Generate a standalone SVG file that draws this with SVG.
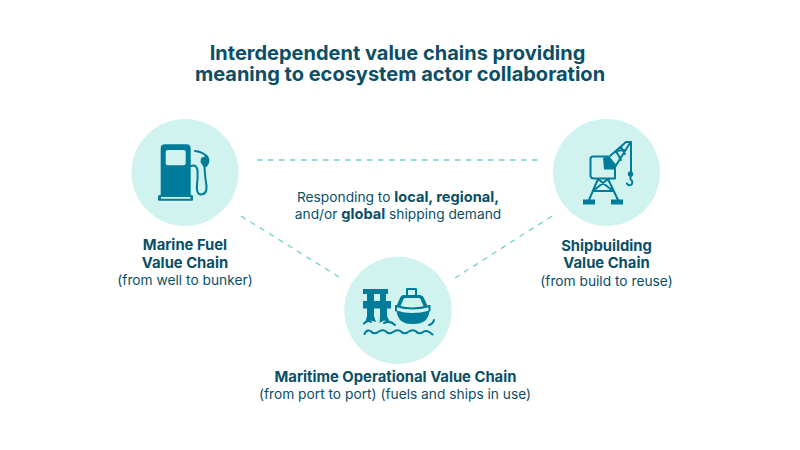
<svg xmlns="http://www.w3.org/2000/svg" width="800" height="450" viewBox="0 0 800 450">
<style>
text{font-family:"Inter","Liberation Sans",sans-serif;fill:#0b4f66;text-anchor:middle}
.t{font-size:20px;font-weight:700}
.b{font-size:14.8px;font-weight:700}
.r{font-size:13.75px;font-weight:400}
.c{fill:#d0f3ef}
.i{fill:#007c9b}
.l{fill:none;stroke:#007c9b;stroke-width:2;stroke-linecap:round;stroke-linejoin:round}
.d{fill:none;stroke:#6fd0cc;stroke-width:1.3;stroke-dasharray:5.5 5.5}
</style>
<rect width="800" height="450" fill="#fff"/>
<g id="title">
<text class="t" x="397.500" y="59.500">Interdependent value chains providing</text>
<text class="t" x="400" y="80.500">meaning to ecosystem actor collaboration</text>
</g>
<g id="connectors">
<path class="d" d="M257 160H541"/>
<path class="d" d="M241 216L339 277"/>
<path class="d" d="M552 216L455 278"/>
</g>
<g id="center-label">
<text class="r" x="398" y="202">Responding to <tspan font-weight="700" font-size="14.600">local, regional,</tspan></text>
<text class="r" x="398" y="219">and/or <tspan font-weight="700" font-size="14.600">global</tspan> shipping demand</text>
</g>
<g id="marine-fuel">
<circle class="c" cx="185" cy="172.500" r="53.500"/>
<path class="i" fill-rule="evenodd" d="M165 144.300H186.500Q190.700 144.300 190.700 148.500V195H160.700V148.500Q160.700 144.300 165 144.300ZM167.700 150Q165.700 150 165.700 152V163.300Q165.700 165.300 167.700 165.300H183.700Q185.700 165.300 185.700 163.300V152Q185.700 150 183.700 150Z"/>
<path class="i" fill-rule="evenodd" d="M159.500 195H192Q193 195 193 196.500V199.500Q193 200.700 192 200.700H159Q158 200.700 158 199.500V196.500Q158 195 159.500 195ZM161 197V198.700H190.500V197Z"/>
<path class="l" d="M191 166Q197 164 197.500 171Q198 178 197 184Q196 195 201.500 194.500Q207 194 206.500 186Q205 178 204.500 167"/>
<path class="l" stroke-width="2.200" d="M195 151Q204 152 208 158"/>
<path class="i" d="M201 158L207 155.500L209.500 160Q209.500 164 206.500 167H203.500L200.500 162Z"/>
</g>
<g id="shipbuilding">
<circle class="c" cx="606.500" cy="172.500" r="53.500"/>
<path class="l" d="M593 156.500H608L615 165V178.500H594Q590.500 178.500 590.500 175V159Q590.500 156.500 593 156.500Z"/>
<path class="i" d="M603 157.500L608.500 157L615.500 165V169.500H604Z"/>
<path class="l" d="M610 156L626 142H631V172M615 167L630 143M616 151L621 160M621 147L625 154M616 151L624 150"/>
<circle class="i" cx="630.500" cy="174" r="2.700"/>
<path class="l" d="M630.500 176V179.500Q633.500 181.500 631.500 184.500Q628.500 186.500 627 183.500"/>
<path class="l" d="M598 179L589 200M608 179L618 200M598 179L613 191M608 179L593 191M593 191H613"/>
<rect class="i" x="583" y="199.500" width="12" height="5"/>
<rect class="i" x="611" y="199.500" width="12" height="5"/>
</g>
<g id="maritime">
<circle class="c" cx="398" cy="310.500" r="53.700"/>
<path class="i" d="M363 289H388V294H386V301H391V308.500H387V316L390 322L384 320.500L379.500 323L380 316V308.500H374V316L376 322L370.500 320.500L365 323.500L367 316V308.500H363V301H367V294H363ZM374 294V301H380V294Z"/>
<path class="l" d="M407 295.500V289H416V295.500"/>
<path class="i" fill-rule="evenodd" d="M404 295H420Q423 295.500 424 298L427.500 306H423.500L420.500 299Q420 298 418.500 298H405.500Q404 298 403.500 299L400.500 306H396.500L400 298Q401 295 404 295Z"/>
<path class="i" d="M396.500 310.500Q412 315.500 429.500 310.500Q428.500 324.500 412.500 324Q398 324.500 396.500 310.500Z"/>
<path class="l" d="M396 306Q412 311 429.500 306"/>
<path class="l" d="M396 306V310.500M429.500 306V310.500"/>
<path class="l" stroke-width="2.800" d="M364 323.500Q367.500 319.500 371 322M384 323Q390 320 395 325M429 325Q433 324 434 320"/>
<path class="l" stroke-width="3.600" d="M364.500 334Q367 329 370.500 331Q374 335 378 332Q382 329 385.500 331Q389 335 393 332Q397 329 400.500 331Q404 335 408 332Q412 329 415.500 331Q419 335 423 332Q427 329 432.500 334.500"/>
</g>
<g id="labels">
<text class="b" x="185" y="250">Marine Fuel</text>
<text class="b" x="185" y="268">Value Chain</text>
<text class="r" x="185" y="285">(from well to bunker)</text>
<text class="b" x="606.500" y="251">Shipbuilding</text>
<text class="b" x="606.500" y="268">Value Chain</text>
<text class="r" x="606.500" y="286">(from build to reuse)</text>
<text class="b" x="395.500" y="382">Maritime Operational Value Chain</text>
<text class="r" x="395" y="399">(from port to port) (fuels and ships in use)</text>
</g>
</svg>
